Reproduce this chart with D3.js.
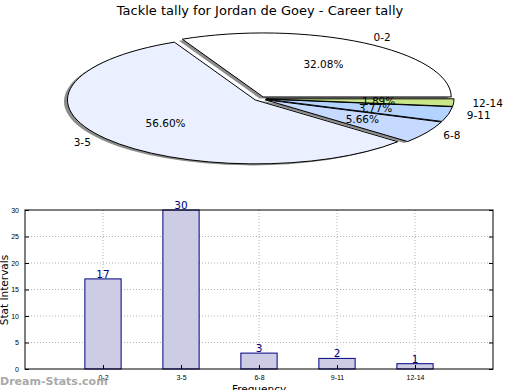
<!DOCTYPE html>
<html>
<head>
<meta charset="utf-8">
<script src="https://cdn.jsdelivr.net/npm/d3@7"></script>
<style>
body { margin: 0; background: #fff; }
svg { display: block; font-family: "DejaVu Sans", sans-serif; }
.grid line { stroke: #b0b0b0; stroke-dasharray: 1,2; }
.axis path { display: none; }
.axis line { stroke: #000; }
.axis text { font-size: 7px; fill: #000; }
</style>
</head>
<body>
<div id="chart"></div>
<script>
var categories = ["0-2", "3-5", "6-8", "9-11", "12-14"];
var tallies = [17, 30, 3, 2, 1];
var sliceColors = ["#ffffff", "#eaf0ff", "#c6d9ff", "#b4d4ff", "#cbe68a"];
var yTicks = [0, 5, 10, 15, 20, 25, 30];

var draw = function(){
	var svg = d3.select("#chart").append("svg").attr("width", 520).attr("height", 390);

	svg.append("text").attr("x", 260).attr("y", 15).attr("text-anchor", "middle")
		.attr("font-size", "13px").text("Tackle tally for Jordan de Goey - Career tally");

	// pie, squashed into an ellipse, starts at 3 o'clock and runs anticlockwise
	var cx = 260, cy = 98.7, rx = 188, ry = 64, ex = 0.032;
	var total = d3.sum(tallies);
	var pie = d3.pie().sort(null).startAngle(Math.PI / 2).endAngle(Math.PI / 2 - 2 * Math.PI);
	var arcs = pie(tallies);
	var arc = d3.arc().innerRadius(0).outerRadius(1);
	var mid = function(d){ return (d.startAngle + d.endAngle) / 2; };

	var shadow = svg.append("g").attr("transform", "translate(" + (cx - 3.5) + "," + (cy + 1.5) + ") scale(" + rx + "," + ry + ")");
	shadow.selectAll("path").data(arcs).enter().append("path")
		.attr("transform", function(d){ return "translate(" + (ex * Math.sin(mid(d))) + "," + (-ex * Math.cos(mid(d))) + ")"; })
		.attr("d", arc).attr("fill", "#000").attr("opacity", 0.45);

	var pg = svg.append("g").attr("transform", "translate(" + cx + "," + cy + ") scale(" + rx + "," + ry + ")");
	pg.selectAll("path").data(arcs).enter().append("path")
		.attr("transform", function(d){ return "translate(" + (ex * Math.sin(mid(d))) + "," + (-ex * Math.cos(mid(d))) + ")"; })
		.attr("d", arc)
		.attr("fill", function(d, i){ return sliceColors[i]; })
		.attr("stroke", "#000").attr("stroke-width", 1)
		.attr("vector-effect", "non-scaling-stroke");

	svg.append("g").selectAll("text").data(arcs).enter().append("text")
		.attr("x", function(d){ return cx + rx * (ex + 1.1) * Math.sin(mid(d)); })
		.attr("y", function(d){ return cy - ry * (ex + 1.1) * Math.cos(mid(d)); })
		.attr("dy", "0.35em").attr("font-size", "10.5px")
		.attr("text-anchor", function(d){ return Math.sin(mid(d)) > 0 ? "start" : "end"; })
		.text(function(d, i){ return categories[i]; });

	svg.append("g").selectAll("text").data(arcs).enter().append("text")
		.attr("x", function(d){ return cx + rx * (ex + 0.6) * Math.sin(mid(d)); })
		.attr("y", function(d){ return cy - ry * (ex + 0.6) * Math.cos(mid(d)); })
		.attr("dy", "0.35em").attr("font-size", "10.5px").attr("text-anchor", "middle")
		.text(function(d){ return (100 * d.value / total).toFixed(2) + "%"; });

	// bar chart
	var x = d3.scaleLinear().domain([0, categories.length + 1]).range([25, 493]);
	var y = d3.scaleLinear().domain([0, 30]).range([369, 210]);
	var bw = 0.465;

	var grid = svg.append("g").attr("class", "grid");
	grid.selectAll(".gy").data(yTicks.slice(1, -1)).enter().append("line")
		.attr("x1", 25).attr("x2", 493).attr("y1", function(d){ return y(d); }).attr("y2", function(d){ return y(d); });
	grid.selectAll(".gx").data(categories).enter().append("line")
		.attr("y1", 210).attr("y2", 369).attr("x1", function(d, i){ return x(i + 1); }).attr("x2", function(d, i){ return x(i + 1); });

	svg.append("g").selectAll("rect").data(tallies).enter().append("rect")
		.attr("x", function(d, i){ return x(i + 1 - bw / 2); })
		.attr("width", x(bw) - x(0))
		.attr("y", function(d){ return y(d); })
		.attr("height", function(d){ return y(0) - y(d); })
		.attr("fill", "#ccccE4").attr("stroke", "#000080").attr("stroke-width", 1);

	svg.append("g").selectAll("text").data(tallies).enter().append("text")
		.attr("x", function(d, i){ return x(i + 1); })
		.attr("y", function(d){ return y(d) - 1; })
		.attr("text-anchor", "middle").attr("font-size", "10.5px").attr("fill", "#000080")
		.text(function(d){ return d; });

	var yAxis = d3.axisLeft(y).tickValues(yTicks).tickSizeInner(-4).tickSizeOuter(0).tickPadding(6);
	svg.append("g").attr("class", "axis").attr("transform", "translate(25,0)").call(yAxis);
	svg.append("g").attr("class", "axis").attr("transform", "translate(493,0)")
		.call(d3.axisRight(y).tickValues(yTicks).tickSizeInner(-4).tickSizeOuter(0).tickFormat(""));

	var xAxis = d3.axisBottom(x).tickValues(d3.range(1, categories.length + 1))
		.tickFormat(function(d){ return categories[d - 1]; }).tickSizeInner(-4).tickSizeOuter(0).tickPadding(6);
	svg.append("g").attr("class", "axis").attr("transform", "translate(0,369)").call(xAxis);

	svg.append("rect").attr("x", 25).attr("y", 210).attr("width", 468).attr("height", 159)
		.attr("fill", "none").attr("stroke", "#000").attr("stroke-width", 1);

	svg.append("text").attr("text-anchor", "middle").attr("font-size", "10.5px")
		.attr("transform", "translate(8,290) rotate(-90)").text("Stat Intervals");
	svg.append("text").attr("text-anchor", "middle").attr("font-size", "10.5px")
		.attr("x", 259).attr("y", 393).text("Frequency");

	svg.append("text").attr("x", 0).attr("y", 385).attr("font-size", "11px").attr("font-weight", "bold")
		.attr("fill", "#a0a0a0").attr("opacity", 0.9).text("Dream-Stats.com");
};

window.onload = function(){
	draw();
};
</script>
</body>
</html>
